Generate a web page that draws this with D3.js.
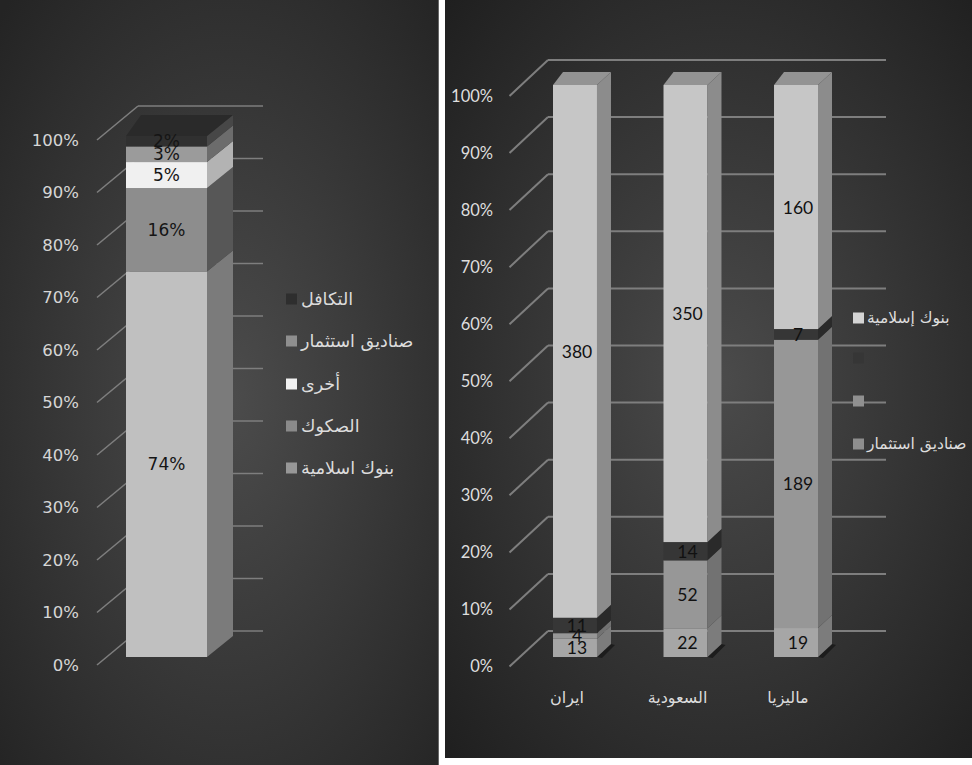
<!DOCTYPE html>
<html>
<head>
<meta charset="utf-8">
<script src="https://cdn.jsdelivr.net/npm/d3@7"></script>
<style>
  html, body { margin: 0; padding: 0; background: #ffffff; }
  svg { display: block; }
</style>
</head>
<body>
<svg id="chart" width="972" height="765"></svg>
<script>
// ---- Left panel: share of each segment of the sector (percent) ----
const sectorNames  = ["بنوك اسلامية", "الصكوك", "أخرى", "صناديق استثمار", "التكافل"];
const sectorShares = [74, 16, 5, 3, 2];
const percentTicks = [0, 10, 20, 30, 40, 50, 60, 70, 80, 90, 100];

// ---- Right panel: number of institutions per country ----
const countries    = ["ايران", "السعودية", "ماليزيا"];
const fundsCounts  = [13, 22, 19];     // صناديق استثمار (bottom)
const secondCounts = [4, 52, 189];
const thirdCounts  = [11, 14, 7];
const banksCounts  = [380, 350, 160];  // بنوك إسلامية (top)
const countrySeriesNames = ["صناديق استثمار", "", "", "بنوك إسلامية"];

// ---- styles ----
const leftFront  = ["#c0c0c0", "#8d8d8d", "#f0f0f0", "#9b9b9b", "#303030"];
const leftSide   = ["#7b7b7b", "#575757", "#b3b3b3", "#6c6c6c", "#474747"];
const leftSwatch = ["#979797", "#8a8a8a", "#f2f2f2", "#8f8f8f", "#2e2e2e"];
const rightFront  = ["#a6a6a6", "#979797", "#363636", "#c6c6c6"];
const rightSide   = ["#7c7c7c", "#727272", "#2a2a2a", "#8c8c8c"];
const rightSwatch = ["#8e8e8e", "#909090", "#363636", "#d4d4d4"];

const svg = d3.select("#chart");
const defs = svg.append("defs");

function panelGradient(id, cx, cy, inner, outer) {
  const g = defs.append("radialGradient").attr("id", id)
    .attr("cx", cx).attr("cy", cy).attr("r", "72%");
  g.append("stop").attr("offset", "0%").attr("stop-color", inner);
  g.append("stop").attr("offset", "100%").attr("stop-color", outer);
}
panelGradient("bgLeft", "52%", "52%", "#4c4c4c", "#242424");
panelGradient("bgRight", "52%", "50%", "#4b4b4b", "#1f1f1f");

svg.append("rect").attr("x", 0).attr("y", 0).attr("width", 438.7).attr("height", 765)
  .attr("fill", "url(#bgLeft)");
svg.append("rect").attr("x", 445).attr("y", 0).attr("width", 527).attr("height", 758)
  .attr("fill", "url(#bgRight)");

const pts = a => a.map(p => p.join(",")).join(" ");
const gridColor = "#7e7e7e";

// =====================================================================
// Left panel: one 100% stacked 3D column
// =====================================================================
const gL = svg.append("g");
const yL      = d3.scaleLinear().domain([0, 100]).range([657, 136]);
const yLBack  = d3.scaleLinear().domain([0, 100]).range([631, 106]);
const yLFront = d3.scaleLinear().domain([0, 100]).range([665, 140]);
const xL = d3.scaleBand().domain(["total"]).range([126, 207]);
const Ldx = 26, Ldy = -21;
const wallLeftFrontX = 97, wallLeftBackX = 138, wallRightL = 263;

// side wall and back wall grid
gL.selectAll(".diag").data(percentTicks).join("line")
  .attr("x1", wallLeftFrontX).attr("y1", d => yLFront(d))
  .attr("x2", wallLeftBackX).attr("y2", d => yLBack(d))
  .attr("stroke", gridColor).attr("stroke-width", 1.6);
gL.selectAll(".back").data(percentTicks).join("line")
  .attr("x1", wallLeftBackX).attr("y1", d => yLBack(d))
  .attr("x2", wallRightL).attr("y2", d => yLBack(d))
  .attr("stroke", gridColor).attr("stroke-width", 1.6);

// axis labels
const axL = gL.append("g").attr("transform", "translate(79,0)")
  .call(d3.axisLeft(yLFront).tickValues(percentTicks).tickSize(0).tickPadding(0)
    .tickFormat(d => d + "%"));
axL.select(".domain").remove();
axL.selectAll("text").attr("fill", "#d6d6d6")
  .style("font-family", "'DejaVu Sans', Verdana, sans-serif").style("font-size", "16.5px");

// stacked column
const leftRow = Object.fromEntries(sectorNames.map((n, i) => [n, sectorShares[i]]));
const leftStack = d3.stack().keys(sectorNames)([leftRow]);
const bx0 = xL("total"), bx1 = xL("total") + xL.bandwidth();

leftStack.forEach((layer, i) => {
  const seg = layer[0];
  const y0 = yL(seg[0]), y1 = yL(seg[1]);
  gL.append("rect").attr("x", bx0).attr("y", y1).attr("width", bx1 - bx0).attr("height", y0 - y1)
    .attr("fill", leftFront[i]);
  gL.append("polygon")
    .attr("points", pts([[bx1, y0], [bx1 + Ldx, y0 + Ldy], [bx1 + Ldx, y1 + Ldy], [bx1, y1]]))
    .attr("fill", leftSide[i]);
});
const topL = yL(100);
gL.append("polygon")
  .attr("points", pts([[bx0, topL], [bx1, topL], [bx1 + Ldx, topL + Ldy], [bx0 + 15, topL + Ldy]]))
  .attr("fill", "#2a2a2a");

// data labels
leftStack.forEach((layer, i) => {
  const seg = layer[0];
  gL.append("text")
    .attr("x", (bx0 + bx1) / 2).attr("y", (yL(seg[0]) + yL(seg[1])) / 2)
    .attr("text-anchor", "middle").attr("dominant-baseline", "central")
    .attr("fill", "#151515")
    .style("font-family", "'DejaVu Sans', Verdana, sans-serif").style("font-size", "17px")
    .text(sectorShares[i] + "%");
});

// legend (top series first)
const legL = gL.append("g");
const legLOrder = d3.range(sectorNames.length).reverse();
const legLY = [299, 341, 384, 426, 468];
legLOrder.forEach((si, k) => {
  legL.append("rect").attr("x", 286).attr("y", legLY[k] - 5.5).attr("width", 11).attr("height", 11)
    .attr("fill", leftSwatch[si]);
  legL.append("text").attr("x", 301).attr("y", legLY[k])
    .attr("dominant-baseline", "central").attr("fill", "#dcdcdc")
    .style("font-family", "'DejaVu Sans', sans-serif").style("font-size", "17.5px")
    .text(sectorNames[si]);
});

// =====================================================================
// Right panel: 100% stacked 3D columns by country
// =====================================================================
const gR = svg.append("g");
const yR      = d3.scaleLinear().domain([0, 1]).range([657, 85]);
const yRBack  = d3.scaleLinear().domain([0, 1]).range([631, 60]);
const yRFront = d3.scaleLinear().domain([0, 1]).range([666.5, 96]);
const xR = d3.scaleBand().domain(countries).range([553, 818]).paddingInner(0.602).paddingOuter(0);
const Rdx = 14, Rdy = -13;
const rWallFrontX = 509.5, rWallBackX = 548, rWallRight = 886;
const fracTicks = percentTicks.map(d => d / 100);

gR.selectAll(".diag").data(fracTicks).join("line")
  .attr("x1", rWallFrontX).attr("y1", d => yRFront(d))
  .attr("x2", rWallBackX).attr("y2", d => yRBack(d))
  .attr("stroke", gridColor).attr("stroke-width", 2);
gR.selectAll(".back").data(fracTicks).join("line")
  .attr("x1", rWallBackX).attr("y1", d => yRBack(d))
  .attr("x2", rWallRight).attr("y2", d => yRBack(d))
  .attr("stroke", gridColor).attr("stroke-width", 2);

const axR = gR.append("g").attr("transform", "translate(493,0)")
  .call(d3.axisLeft(yRFront).tickValues(fracTicks).tickSize(0).tickPadding(0)
    .tickFormat(d => Math.round(d * 100) + "%"));
axR.select(".domain").remove();
axR.selectAll("text").attr("fill", "#dedede")
  .style("font-family", "Lato, 'Open Sans', sans-serif").style("font-size", "16.5px");

// category labels
const catScale = xR.copy().range([553 - 8, 818 - 8]);
const axC = gR.append("g").attr("transform", "translate(0,697)")
  .call(d3.axisBottom(catScale).tickSize(0).tickPadding(0));
axC.select(".domain").remove();
axC.selectAll("text").attr("fill", "#dcdcdc").attr("dy", "0.35em")
  .style("font-family", "'DejaVu Sans', sans-serif").style("font-size", "16px");

const keys = ["s0", "s1", "s2", "s3"];
const rows = countries.map((c, i) => ({
  country: c, s0: fundsCounts[i], s1: secondCounts[i], s2: thirdCounts[i], s3: banksCounts[i]
}));
const rightStack = d3.stack().keys(keys).offset(d3.stackOffsetExpand)(rows);

rows.forEach((row, ci) => {
  const x0 = xR(row.country), x1 = x0 + xR.bandwidth();
  // floor shadow
  gR.append("polygon")
    .attr("points", pts([[x1, 657], [x1 + Rdx, 657 + Rdy], [x1 + Rdx + 4, 657 + Rdy + 1], [x1 + 5, 658]]))
    .attr("fill", "#1c1c1c");
  rightStack.forEach((layer, si) => {
    const seg = layer[ci];
    const y0 = yR(seg[0]), y1 = yR(seg[1]);
    gR.append("rect").attr("x", x0).attr("y", y1).attr("width", x1 - x0).attr("height", y0 - y1)
      .attr("fill", rightFront[si]);
    gR.append("polygon")
      .attr("points", pts([[x1, y0], [x1 + Rdx, y0 + Rdy], [x1 + Rdx, y1 + Rdy], [x1, y1]]))
      .attr("fill", rightSide[si]);
  });
  const t = yR(1);
  gR.append("polygon")
    .attr("points", pts([[x0, t], [x1, t], [x1 + Rdx, t + Rdy], [x0 + 10, t + Rdy]]))
    .attr("fill", "#939393");
  rightStack.forEach((layer, si) => {
    const seg = layer[ci];
    gR.append("text")
      .attr("x", (x0 + x1) / 2 + 2).attr("y", (yR(seg[0]) + yR(seg[1])) / 2)
      .attr("text-anchor", "middle").attr("dominant-baseline", "central")
      .attr("fill", "#111111")
      .style("font-family", "Lato, 'Open Sans', sans-serif").style("font-size", "17.5px")
      .text(seg.data[layer.key]);
  });
});

// legend (top series first)
const legR = gR.append("g");
const legRY = [318, 358, 401, 444];
[3, 2, 1, 0].forEach((si, k) => {
  legR.append("rect").attr("x", 853).attr("y", legRY[k] - 5.5).attr("width", 11).attr("height", 11)
    .attr("fill", rightSwatch[si]);
  if (countrySeriesNames[si]) {
    legR.append("text").attr("x", 867).attr("y", legRY[k])
      .attr("dominant-baseline", "central").attr("fill", "#dedede")
      .style("font-family", "'DejaVu Sans', sans-serif").style("font-size", "15.5px")
      .text(countrySeriesNames[si]);
  }
});
</script>
</body>
</html>
